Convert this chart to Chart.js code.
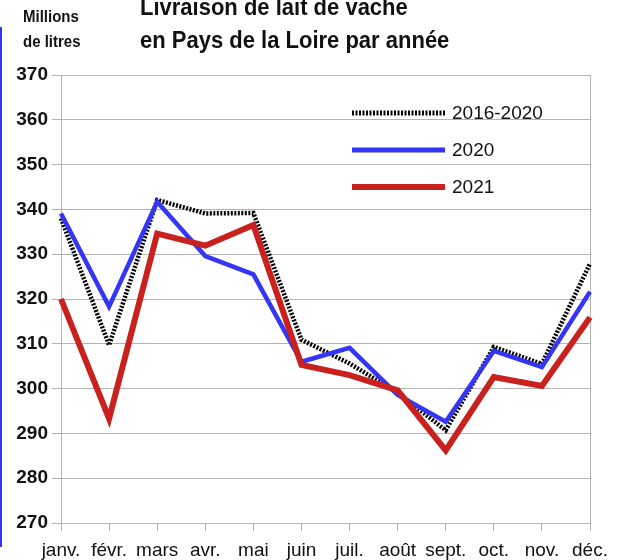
<!DOCTYPE html>
<html>
<head>
<meta charset="utf-8">
<script src="https://cdn.jsdelivr.net/npm/chart.js@4.4.0/dist/chart.umd.min.js"></script>
<style>
  html, body { margin: 0; padding: 0; background: #fff; }
  #wrap { position: relative; width: 623px; height: 560px; overflow: hidden; font-family: "Liberation Sans", Arial, sans-serif; }
  #bar { position: absolute; left: 0; top: 27px; width: 2px; height: 520px; background: #3535f5; }
  #unit { position: absolute; left: 23px; top: 4px; font-weight: bold; font-size: 15px; line-height: 21px; color: #111; transform: scaleY(1.15); transform-origin: 0 0; }
  #title { position: absolute; left: 140px; top: -10px; font-weight: bold; font-size: 22px; line-height: 31px; color: #111; white-space: nowrap; transform: scaleY(1.08); transform-origin: 0 0; }
  canvas { position: absolute; left: 0; top: 0; }
</style>
</head>
<body>
<div id="wrap">
  <canvas id="c" width="623" height="560"></canvas>
  <div id="bar"></div>
  <div id="unit">Millions<br>de litres</div>
  <div id="title">Livraison de lait de vache<br>en Pays de la Loire par année</div>
</div>
<script>
// Données (millions de litres)
const mois = ["janv.", "févr.", "mars", "avr.", "mai", "juin", "juil.", "août", "sept.", "oct.", "nov.", "déc."];
const moy2016_2020 = [338, 309.7, 342.1, 339.1, 339.2, 310.9, 305.6, 299.1, 290.7, 309.3, 305.5, 327.9];
const annee2020 = [339.1, 318.3, 341.7, 329.6, 325.5, 306, 309.1, 298.6, 292.6, 308.4, 304.8, 321.6];
const annee2021 = [320, 293.3, 334.6, 331.9, 336.5, 305.3, 303, 299.6, 286.2, 302.6, 300.6, 315.9];
const yTicks = { min: 270, max: 370, step: 10 };

const GRID = "#b3b3b3";
const FONT = "'Liberation Sans', Arial, sans-serif";

// légende dessinée dans la zone du graphique
const legendInside = {
  id: "legendInside",
  afterDatasetsDraw(chart) {
    const ctx = chart.ctx;
    const ys = [113, 150, 187];
    chart.data.datasets.forEach((ds, i) => {
      ctx.save();
      ctx.strokeStyle = ds.borderColor;
      ctx.lineWidth = ds.legendWidth;
      ctx.setLineDash(ds.borderDash || []);
      ctx.beginPath();
      ctx.moveTo(352, ys[i]);
      ctx.lineTo(445, ys[i]);
      ctx.stroke();
      ctx.setLineDash([]);
      ctx.fillStyle = "#111";
      ctx.font = "19px " + FONT;
      ctx.textBaseline = "middle";
      ctx.textAlign = "left";
      ctx.fillText(ds.label, 452, ys[i] + 1);
      ctx.restore();
    });
  }
};

new Chart(document.getElementById("c"), {
  type: "line",
  data: {
    labels: mois,
    datasets: [
      { label: "2016-2020", data: moy2016_2020, borderColor: "#000", borderWidth: 4.5, legendWidth: 5,
        borderDash: [2, 1.5], order: 3 },
      { label: "2020", data: annee2020, borderColor: "#3535f5", borderWidth: 4.5, legendWidth: 5, order: 2 },
      { label: "2021", data: annee2021, borderColor: "#c9211e", borderWidth: 6, legendWidth: 6, order: 1 }
    ]
  },
  options: {
    responsive: false,
    animation: false,
    events: [],
    layout: { padding: { top: 75, right: 33, left: 0, bottom: 0 } },
    elements: { point: { radius: 0 }, line: { tension: 0, borderCapStyle: "butt", borderJoinStyle: "miter" } },
    plugins: { legend: { display: false }, tooltip: { enabled: false } },
    scales: {
      x: {
        offset: false,
        grid: {
          color: (c) => c.index === mois.length - 1 ? GRID : "rgba(0,0,0,0)",
          tickColor: GRID, tickLength: 8, drawOnChartArea: true
        },
        border: { color: GRID },
        ticks: { color: "#111", font: { family: FONT, size: 19 }, padding: 8, maxRotation: 0, autoSkip: false },
        afterFit: (s) => { s.height = 37; }
      },
      y: {
        min: yTicks.min, max: yTicks.max,
        grid: { color: GRID, tickColor: GRID, tickLength: 9 },
        border: { color: GRID },
        ticks: { stepSize: yTicks.step, color: "#111", font: { family: FONT, size: 19, weight: "bold" }, padding: 4 },
        afterFit: (s) => { s.width = 61; }
      }
    }
  },
  plugins: [legendInside]
});
</script>
</body>
</html>
